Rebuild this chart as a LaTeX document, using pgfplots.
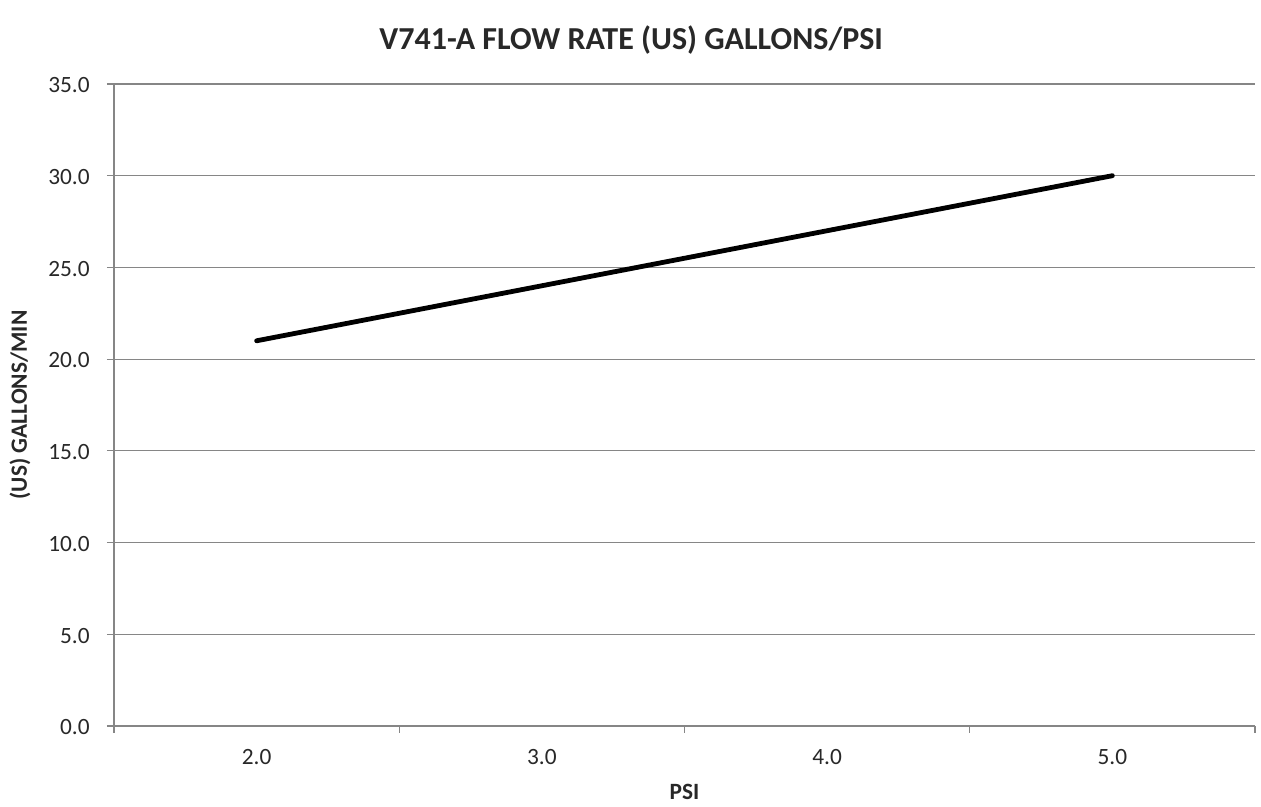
\documentclass[border=0pt]{standalone}
\usepackage{pgfplots}
\pgfplotsset{compat=1.18}
\usepackage{fontspec}
\setmainfont{Carlito}
\definecolor{axgray}{RGB}{134,134,134}
\definecolor{txt}{RGB}{40,40,40}
\begin{document}
\begin{tikzpicture}
\begin{axis}[
  scale only axis,
  width=855.75pt, height=481.5pt,
  xmin=-0.5, xmax=3.5,
  ymin=0, ymax=35,
  axis x line=bottom, axis y line=left,
  axis line style={-, axgray, line width=0.9pt},
  xtick={0,1,2,3},
  xticklabels={2.0,3.0,4.0,5.0},
  minor xtick={-0.5,0.5,1.5,2.5,3.5},
  major x tick style={draw=none},
  minor x tick style={axgray, line width=0.9pt},
  ytick={0,5,...,35},
  y tick style={axgray, line width=0.9pt},
  tick align=outside,
  major tick length=5.25pt,
  minor tick length=5.25pt,
  ymajorgrids,
  grid style={axgray, line width=0.9pt},
  yticklabel={\pgfmathprintnumber[fixed,fixed zerofill,precision=1]{\tick}},
  /pgf/number format/assume math mode=true,
  ticklabel style={font=\fontsize{17.5}{20}\selectfont, text=txt},
  yticklabel style={xshift=-9.5pt, yshift=-1pt},
  xticklabel style={anchor=center, yshift=-18pt},
  xlabel={\textbf{PSI}},
  xlabel style={font=\fontsize{17.5}{20}\selectfont, text=txt, at={(axis description cs:0.5,-0.1028)}, anchor=center},
  ylabel={\textbf{(US) GALLONS/MIN}},
  ylabel style={font=\fontsize{17.5}{20}\selectfont, text=txt, at={(axis description cs:-0.0824,0.5)}, anchor=center},
  clip=false,
]
\addplot[black, line width=3.6pt, line cap=round] coordinates {(0,21.0) (1,24.0) (2,27.0) (3,30.0)};
\end{axis}
\node[font=\fontsize{24}{28}\selectfont\bfseries, text=txt] at ([shift={(-40pt,33pt)}]current axis.north) {V741-A FLOW RATE (US) GALLONS/PSI};
\pgfresetboundingbox
\path[use as bounding box] ([shift={(-85.5pt,-60.75pt)}]current axis.south west) rectangle ([shift={(4.5pt,63pt)}]current axis.north east);
\end{tikzpicture}
\end{document}
